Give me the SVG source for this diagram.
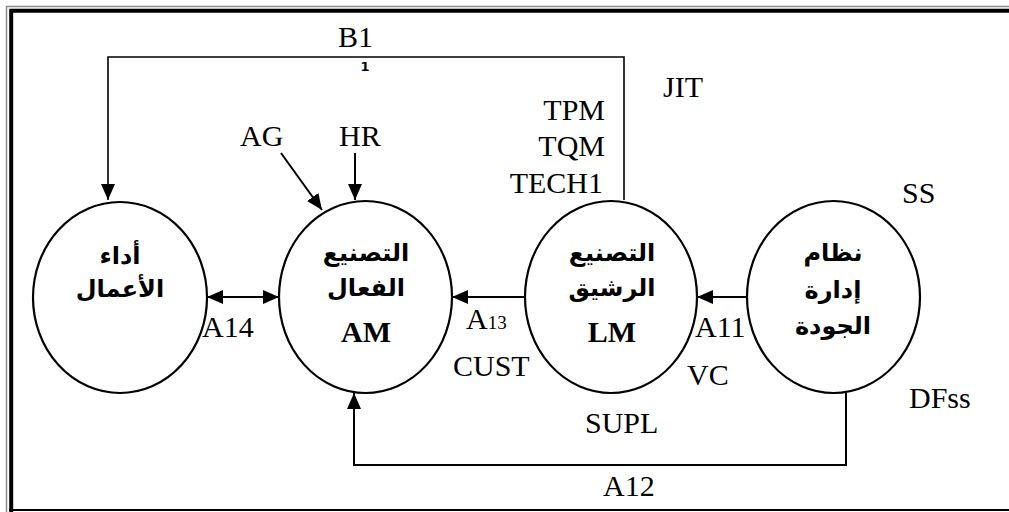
<svg xmlns="http://www.w3.org/2000/svg" width="1009" height="512" viewBox="0 0 1009 512">
  <defs>
    <marker id="arrow" markerUnits="userSpaceOnUse" markerWidth="16" markerHeight="14" refX="16" refY="7" orient="auto-start-reverse">
      <path d="M0,0 L16,7 L0,14 z" fill="#000"/>
    </marker>
    <style>
      .node { fill: #fff; stroke: #000; stroke-width: 2.2; }
      .lbl { font-family: "Liberation Serif", "Times New Roman", serif; font-size: 30px; fill: #000; }
      .bold { font-weight: bold; }
      .ar { font-family: "DejaVu Sans", "Noto Sans", sans-serif; font-weight: bold; font-size: 24px; fill: #000; text-anchor: middle; }
      .conn { fill: none; stroke: #000; stroke-width: 2; }
      .thin { stroke-width: 1.6; }
    </style>
  </defs>

  <rect width="1009" height="512" fill="#fff"/>

  <!-- page frame -->
  <g id="frame" fill="none">
    <path d="M6.5,512 V6.5 H1009" stroke="#8a8a8a" stroke-width="1.5"/>
    <path d="M11.2,512 V10.8 H1009" stroke="#000" stroke-width="4"/>
    <path d="M9,510 H1009" stroke="#000" stroke-width="2"/>
  </g>

  <!-- connectors -->
  <g id="connectors">
    <path class="conn thin" d="M624,200 V57 H108 V200" marker-end="url(#arrow)"/>
    <path class="conn" d="M281,153 L322,210" marker-end="url(#arrow)"/>
    <path class="conn" d="M355,153 V200" marker-end="url(#arrow)"/>
    <path class="conn" d="M207,297 H279" marker-start="url(#arrow)" marker-end="url(#arrow)"/>
    <path class="conn" d="M525,297 H452" marker-end="url(#arrow)"/>
    <path class="conn" d="M747,297 H697" marker-end="url(#arrow)"/>
    <path class="conn" d="M846,393 V465 H354 V393" marker-end="url(#arrow)"/>
  </g>

  <!-- business performance -->
  <g id="node-performance">
    <ellipse class="node" cx="120" cy="297.5" rx="87" ry="95.5"/>
    <text class="ar" x="120" y="264">أداء</text>
    <text class="ar" x="120" y="297">الأعمال</text>
  </g>

  <!-- agile manufacturing -->
  <g id="node-am">
    <ellipse class="node" cx="365.5" cy="297" rx="86.5" ry="96"/>
    <text class="ar" x="366" y="261">التصنيع</text>
    <text class="ar" x="366" y="296">الفعال</text>
    <text class="lbl bold" x="366" y="342" font-size="31" text-anchor="middle">AM</text>
  </g>

  <!-- lean manufacturing -->
  <g id="node-lm">
    <ellipse class="node" cx="611" cy="297" rx="86" ry="96"/>
    <text class="ar" x="612" y="261">التصنيع</text>
    <text class="ar" x="612" y="296">الرشيق</text>
    <text class="lbl bold" x="612" y="342" font-size="31" text-anchor="middle">LM</text>
  </g>

  <!-- quality management system -->
  <g id="node-qms">
    <ellipse class="node" cx="833.5" cy="297" rx="86.5" ry="96"/>
    <text class="ar" x="833" y="261">نظام</text>
    <text class="ar" x="833" y="298">إدارة</text>
    <text class="ar" x="833" y="334">الجودة</text>
  </g>

  <!-- labels -->
  <g id="labels">
    <text class="lbl" x="338" y="47">B1</text>
    <text x="365" y="71" font-family="DejaVu Sans, sans-serif" font-size="13" font-weight="bold" text-anchor="middle">1</text>
    <text class="lbl" x="663" y="97">JIT</text>
    <text class="lbl" x="605" y="120" text-anchor="end">TPM</text>
    <text class="lbl" x="605" y="156" text-anchor="end">TQM</text>
    <text class="lbl" x="603" y="193" text-anchor="end">TECH1</text>
    <text class="lbl" x="240" y="146">AG</text>
    <text class="lbl" x="339" y="146">HR</text>
    <text class="lbl" x="902" y="203">SS</text>
    <text class="lbl" x="202" y="337">A14</text>
    <text class="lbl" x="466" y="329">A<tspan font-size="19">13</tspan></text>
    <text class="lbl" x="453" y="376">CUST</text>
    <text class="lbl" x="695" y="337">A11</text>
    <text class="lbl" x="687" y="385">VC</text>
    <text class="lbl" x="585" y="433">SUPL</text>
    <text class="lbl" x="909" y="408">DFss</text>
    <text class="lbl" x="603" y="496">A12</text>
  </g>
</svg>
